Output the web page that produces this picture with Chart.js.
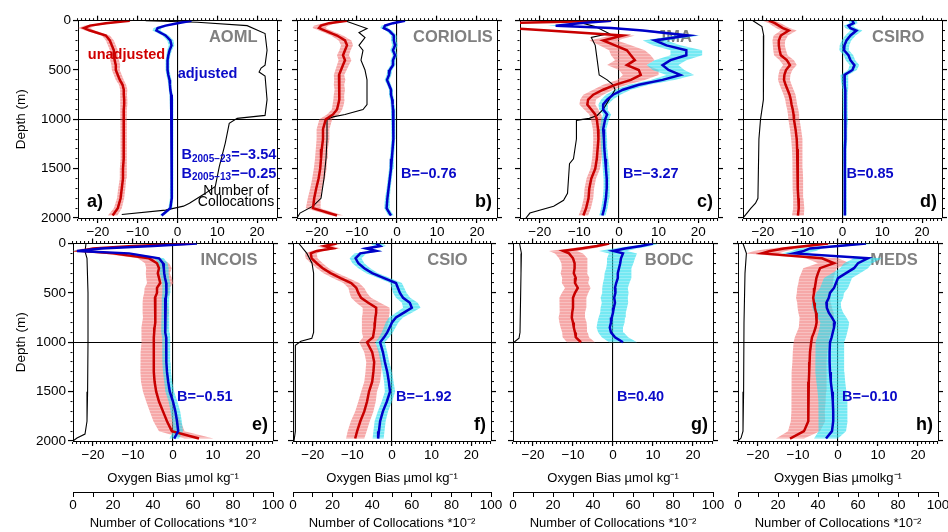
<!DOCTYPE html>
<html>
<head>
<meta charset="utf-8">
<script src="https://cdn.jsdelivr.net/npm/chart.js@4.4.0/dist/chart.umd.min.js"></script>
<style>
  body { margin: 0; background: #fff; width: 948px; height: 532px; overflow: hidden; position: relative; }
  canvas { position: absolute; left: 0; top: 0; }
</style>
</head>
<body>
<script>
// depth levels (m) shared by the bias profiles
const depths = [0,25,50,75,100,150,200,250,300,350,400,450,500,550,600,650,700,750,800,850,900,950,1000,1100,1200,1300,1400,1500,1600,1700,1800,1900,1975];

// a) AOML
const aomlRed = [-12,-18,-22,-23.5,-22,-18,-17,-16.5,-16,-16,-15.8,-15.5,-15.5,-15,-14.5,-13.8,-13.5,-13.5,-13.4,-13.4,-13.5,-13.5,-13.5,-13.5,-13.5,-13.5,-13.6,-13.7,-13.7,-14,-14.3,-15,-16.3];
const aomlRedErr = [1.2,1.5,1.5,1.5,1.2,1,1,1,1,1,1.1,1.1,1,1,1,0.9,0.9,0.8,0.8,0.8,0.8,0.8,0.8,0.8,0.8,0.8,0.8,0.8,0.8,0.9,0.9,1,1.2];
const aomlBlue = [3.5,0,-3,-5,-5.3,-3,-1.8,-1.5,-2,-2.3,-2.5,-2.5,-2.5,-2.3,-2,-1.9,-1.8,-1.6,-1.5,-1.5,-1.5,-1.4,-1.4,-1.4,-1.4,-1.4,-1.4,-1.4,-1.4,-1.5,-1.5,-1.8,-4];
const aomlBlueErr = [0.8,1,1,1,1,0.8,0.8,0.7,0.6,0.5,0.5,0.5,0.5,0.5,0.5,0.4,0.4,0.4,0.4,0.4,0.4,0.4,0.4,0.4,0.4,0.4,0.4,0.4,0.4,0.4,0.4,0.5,0.6];
const aomlCountDepth = [0,15,50,130,300,450,480,520,560,800,960,990,1040,1240,1480,1680,1750,1850,1880,1920,1965];
const aomlCount = [34,60,85,94,95,94,92,91,94,95,94,80,76,74,71,69,64,56,53,44,22];

// b) CORIOLIS
const corRed = [-12.5,-17,-19,-19.5,-18,-15,-13,-12.5,-13,-13.5,-13,-13.5,-14,-14.5,-14.3,-14.5,-14.3,-14.5,-14.5,-14.7,-15,-16,-17.8,-18.5,-18.5,-18.8,-19,-19.2,-19.6,-20.2,-20.7,-21,-15];
const corRedErr = [1.2,1.6,1.8,1.6,1.5,1.5,1.6,1.5,1.4,1.5,1.6,1.5,1.4,1.3,1.4,1.3,1.3,1.3,1.4,1.4,1.3,1.5,1.6,1.6,1.6,1.5,1.5,1.6,1.6,1.5,1.6,1.8,1.6];
const corBlue = [2,-1,-3,-3.3,-2,-0.8,-0.8,-0.5,-1,-0.5,-1,-1,-1.8,-2,-2.5,-2,-1.5,-1.5,-1.2,-1.1,-1,-0.9,-0.8,-0.9,-1,-1.1,-1.3,-1.5,-1.8,-2.1,-2.4,-2.6,-1.5];
const corBlueErr = [0.8,0.9,0.9,0.9,0.8,0.7,0.7,0.7,0.7,0.6,0.6,0.6,0.6,0.6,0.6,0.5,0.5,0.5,0.5,0.5,0.5,0.5,0.5,0.5,0.5,0.5,0.5,0.5,0.5,0.5,0.6,0.6,0.7];
const corCountDepth = [0,80,120,170,250,300,400,500,600,700,850,900,950,975,1000,1200,1400,1600,1800,1880,1950,2000];
const corCount = [24,35,31,34,31,33,32,34,35,35,35,33,24,18,15,15,14.5,13.5,12,8,1.5,0];

// c) JMA
const jmaRed = [-2,-30,-30,-28,-18,1,-4,-1,2,3,4,2,5,5.5,3,-1,-4,-6.5,-7.8,-8,-7,-6,-5.6,-5.3,-5.2,-5.4,-5.6,-6,-7,-7.5,-7.7,-8.3,-9];
const jmaRedErr = [1,2,2,2,2,3,3.5,4,4.5,5,5,5,5,4.5,3.5,3,2.5,2.5,2,2,1.8,1.5,1.5,1.3,1.3,1.2,1.2,1.2,1.2,1.2,1.2,1.2,1.2];
const jmaBlue = [-2,-10,-16,-2,6,17.5,9,12,17,17,13,11,12.5,15.5,11,5,1,-1.5,-3,-4,-4,-3,-3.5,-4,-3.8,-3.7,-3.5,-3.3,-3.1,-3.1,-3.3,-3.7,-4.2];
const jmaBlueErr = [1,2,2,2,2,3,3,3.5,4,4,4,4,4,3.5,3,2.5,2,1.8,1.5,1.2,1,1,1,0.8,0.8,0.8,0.8,0.8,0.8,0.8,0.8,0.8,0.8];
const jmaCountDepth = [0,60,130,170,250,400,550,600,650,700,800,900,960,990,1010,1200,1400,1450,1600,1750,1820,1880,1950,2000];
const jmaCount = [27,38,45,36,38,39,40,44,47,48,45,42,39,35,28.5,28.5,27,25,24.5,24,22,17,5,3];

// d) CSIRO
const csiroRed = [-18.5,-17,-16,-15,-13.5,-15.5,-16,-16,-15.8,-15.5,-14,-13.2,-14.2,-14.6,-14.7,-14.3,-13.8,-13.3,-13,-12.8,-12.5,-12.3,-12.2,-11.8,-11.5,-11.4,-11.3,-11.3,-11.2,-11.2,-11.1,-11,-11.2];
const csiroRedErr = [1.5,1.5,1.6,1.7,2,1.8,1.6,1.5,1.6,1.7,1.8,1.7,1.6,1.5,1.5,1.5,1.5,1.5,1.4,1.4,1.4,1.4,1.4,1.4,1.4,1.3,1.3,1.3,1.3,1.3,1.3,1.4,1.5];
const csiroBlue = [2.5,2.8,1.5,2,3.5,2,1,0.5,0.4,1.5,2,3,2.5,0.5,0.5,0.6,0.7,0.7,0.7,0.7,0.7,0.7,0.8,0.7,0.7,0.6,0.6,0.6,0.6,0.6,0.6,0.6,0.6];
const csiroBlueErr = [1,1,1.2,1.3,1.5,1.3,1.2,1.2,1.2,1.2,1.2,1.2,1.1,1,0.9,0.8,0.7,0.6,0.6,0.6,0.6,0.6,0.6,0.5,0.5,0.5,0.5,0.4,0.4,0.4,0.4,0.4,0.4];
const csiroCountDepth = [0,60,150,500,800,1000,1200,1800,1850,1900,1950,2000];
const csiroCount = [5,9.5,10.4,10.3,10.2,8.8,8,7.5,6.3,4,2,0];

// e) INCOIS
const incRed = [5,-10,-20,-23,-15,-6,-4,-3.5,-3.8,-3.5,-3.2,-4,-4,-4.5,-4.5,-4.4,-4.3,-4.4,-4.5,-4.6,-4.7,-4.8,-4.8,-4.8,-4.8,-4.8,-4.6,-4.2,-3.5,-2.5,-1.5,-0.3,6.5];
const incRedErr = [1,2,2.5,2,2.5,2.8,3,3.2,3,3.2,3.3,3.1,3.2,3,3.1,3.2,3.3,3.1,3.2,3.3,3.1,3,3.2,3.3,3.4,3.3,3.4,3.3,3.2,3.3,3.4,3.2,3.6];
const incBlue = [6,-5,-18,-24,-11,-3.5,-2.5,-2.3,-2.2,-2,-1.7,-1.6,-1.7,-1.8,-1.9,-2,-2,-2,-2,-1.9,-1.8,-1.7,-1.7,-1.7,-1.6,-1.5,-1.2,-0.8,0,0.6,1,1.3,0.3];
const incBlueErr = [1,1.5,1.5,1.5,1.5,1.2,1.2,1.2,1.1,1,1,1,1,1,1,1,1,1,1,1,1,1,1,1,1,1,1,1.1,1.1,1.2,1.2,1.2,1.2];
const incCountDepth = [0,80,150,500,1000,1500,1800,1930,1970,2000];
const incCount = [6.5,6,7,7.5,7.5,7.3,7,6,2,0];

// f) CSIO
const csioRed = [-14,-17,-15,-19,-20.5,-20.3,-19,-17.5,-15.5,-13,-10.3,-9,-8.5,-7.8,-6,-4,-4,-4.2,-4.3,-4.4,-4.6,-4.8,-6.3,-5,-4.5,-4.7,-5,-5.8,-6.3,-7,-8,-8.8,-9.3];
const csioRedErr = [1.5,2,2,1.5,1.5,1.5,1.5,1.5,1.8,2,2,2,2.2,2.5,3,3.4,3.4,3.4,3.3,3.2,3,2.5,2,2,2,2,2,2,2.2,2.3,2.4,2.4,2.3];
const csioBlue = [-4,-3,-6.5,-4,-8,-9.2,-8.5,-7,-5,-2,1,1.5,2,2.8,4.5,5,3,1,0,-0.6,-1.2,-2,-3,-2.3,-1.8,-1.2,-0.8,-0.5,-1.3,-2.3,-3,-3.3,-3.5];
const csioBlueErr = [1.5,1.5,1.5,1.5,1.5,1.5,1.5,1.5,1.5,1.5,1.5,1.6,1.7,1.8,2,2.2,2,1.8,1.6,1.5,1.4,1.3,1.2,1.1,1.1,1.2,1.2,1.3,1.3,1.3,1.4,1.4,1.4];
const csioCountDepth = [0,100,200,300,900,960,990,1030,1900,2000];
const csioCount = [3,7,9.6,10.4,10.4,9.5,4,1.2,1.2,0.5];

// g) BODC (profiles stop at 1000 m)
const bodcRed = [-1,-4,-8,-12.5,-11,-10,-9.6,-9.6,-9.8,-9.3,-9.5,-8.8,-9.5,-10,-10,-10,-10.2,-10.3,-10,-9.8,-9.5,-9.3,-8,null,null,null,null,null,null,null,null,null,null];
const bodcRedErr = [1,2,3,3.5,3.5,3.5,3.3,3.2,3.3,3.4,3.3,3.2,3.3,3.4,3.3,3.3,3.2,3.3,3.4,3.3,3.2,3.3,3.5,null,null,null,null,null,null,null,null,null,null];
const bodcBlue = [10,7,3,0,2.5,2,1.8,1.5,1.2,1.2,0.8,0.5,0.6,0.3,0.5,0.2,0,-0.3,-0.5,-0.8,-0.5,0.5,2.5,null,null,null,null,null,null,null,null,null,null];
const bodcBlueErr = [1.5,2.5,3,3.5,3.5,3.5,3.3,3.2,3.3,3.4,3.3,3.2,3.3,3.4,3.3,3.3,3.2,3.3,3.4,3.3,3.2,3.3,3.5,null,null,null,null,null,null,null,null,null,null];
const bodcCountDepth = [0,100,300,900,960,1000];
const bodcCount = [3.3,4.2,4,3.5,3,0.5];

// h) MEDS
const medsRed = [-2.5,-8,-13.5,-17,-19,-4,-1,-4.5,-5,-5.4,-5.6,-5.8,-6,-6.2,-6,-5.8,-5.5,-5.3,-5.4,-5.6,-6,-6.5,-6.7,-7,-7.1,-7.2,-7.3,-7.3,-7.4,-7.5,-7.5,-8.5,-12];
const medsRedErr = [2,3,3.5,4,4,4,4,4.2,4.2,4.3,4.3,4.4,4.3,4.3,4.2,4.3,4.4,4.3,4.3,4.2,4.3,4.3,4.4,4.3,4.3,4.4,4.3,4.3,4.3,4.2,4.3,4,3.5];
const medsBlue = [7,0,-7,-8.5,-11,7.5,5,4,2,0,-0.5,-1,-2,-2.3,-2.9,-2.8,-2.3,-1.5,-0.8,-1,-1.3,-1.6,-2,-2.1,-2.1,-2,-1.8,-1.5,-1.3,-1.2,-1.2,-1.5,-3];
const medsBlueErr = [2.5,3,3,3,3,3.5,3.5,3.5,3.5,3.5,3.5,3.5,3.5,3.6,3.6,3.6,3.6,3.6,3.6,3.6,3.6,3.6,3.6,3.6,3.6,3.6,3.6,3.6,3.6,3.6,3.6,3.5,3];
const medsCountDepth = [0,100,300,800,1500,1900,1970,2000];
const medsCount = [2.5,4.2,3.5,3,2.8,2.5,1.5,0];

const centres = ['AOML','CORIOLIS','JMA','CSIRO','INCOIS','CSIO','BODC','MEDS'];
const panelTags = ['a)','b)','c)','d)','e)','f)','g)','h)'];
const biasLabels = ['', 'B=−0.76', 'B=−3.27', 'B=0.85', 'B=−0.51', 'B=−1.92', 'B=0.40', 'B=−0.10'];
const aomlBias = [['B','2005−23','=−3.54'], ['B','2005−13','=−0.25']];
const xTitles = ['Oxygen Bias µmol kg⁻¹','Oxygen Bias µmol kg⁻¹','Oxygen Bias µmol kg⁻¹','Oxygen Bias µmolkg⁻¹'];

const profiles = [
  [aomlRed, aomlRedErr, aomlBlue, aomlBlueErr, aomlCountDepth, aomlCount],
  [corRed, corRedErr, corBlue, corBlueErr, corCountDepth, corCount],
  [jmaRed, jmaRedErr, jmaBlue, jmaBlueErr, jmaCountDepth, jmaCount],
  [csiroRed, csiroRedErr, csiroBlue, csiroBlueErr, csiroCountDepth, csiroCount],
  [incRed, incRedErr, incBlue, incBlueErr, incCountDepth, incCount],
  [csioRed, csioRedErr, csioBlue, csioBlueErr, csioCountDepth, csioCount],
  [bodcRed, bodcRedErr, bodcBlue, bodcBlueErr, bodcCountDepth, bodcCount],
  [medsRed, medsRedErr, medsBlue, medsBlueErr, medsCountDepth, medsCount]
];

// plot area of each panel: left, top, right, bottom (px)
const boxes = [
  [78,20.7,277,218],[297,20.7,497,218],[520,20.7,718,218],[743,20.7,942,218],
  [73,243.5,273,441],[293,243.5,491,441],[513,243.5,713,441],[738,243.5,938,441]
];

const FONT = "'Liberation Sans', Arial, Helvetica, sans-serif";
Chart.defaults.font.family = FONT;
Chart.defaults.font.size = 13.5;
Chart.defaults.color = '#000';

function profileLine(vals) {
  const pts = [];
  for (let i = 0; i < depths.length; i++) {
    if (vals[i] == null) continue;
    pts.push({x: vals[i], y: depths[i]});
  }
  return pts;
}

// closed outline: mean-err going down, mean+err coming back up
function bandShape(vals, err) {
  const lo = [], hi = [];
  for (let i = 0; i < depths.length; i++) {
    if (vals[i] == null) continue;
    lo.push({x: vals[i] - err[i], y: depths[i]});
    hi.push({x: vals[i] + err[i], y: depths[i]});
  }
  return lo.concat(hi.reverse());
}

function stripes(ctx, rgb, a1, a2) {
  const c = document.createElement('canvas');
  c.width = 4; c.height = 3;
  const g = c.getContext('2d');
  g.fillStyle = 'rgba(' + rgb + ',' + a1 + ')';
  g.fillRect(0, 0, 4, 2);
  g.fillStyle = 'rgba(' + rgb + ',' + a2 + ')';
  g.fillRect(0, 2, 4, 1);
  return ctx.createPattern(c, 'repeat');
}

const minus = v => v < 0 ? '−' + (-v) : String(v);

function tickGrid(majorTest, zeroValue, outerFirst) {
  return {
    color: c => (zeroValue != null && c.tick && c.tick.value === zeroValue) ? '#000' : 'rgba(0,0,0,0)',
    lineWidth: 1.1,
    drawOnChartArea: zeroValue != null,
    tickColor: '#000',
    tickLength: 5,
    tickWidth: c => majorTest(c.tick.value) ? 1.2 : 1,
    tickBorderDash: c => majorTest(c.tick.value) ? [] : [2, 20],
    tickBorderDashOffset: outerFirst ? 19.5 : 0
  };
}

function makePanel(i) {
  const [L, T, R, B] = boxes[i];
  const top = i < 4;
  const first = i % 4 === 0;
  const yW = first ? L - 13 : 5;
  const xH = top ? 24 : 51;
  const xcH = top ? 0 : 40;
  const [red, redErr, blue, blueErr, cDep, cnt] = profiles[i];

  const cv = document.createElement('canvas');
  cv.width = 948; cv.height = 532;
  document.body.appendChild(cv);
  const ctx = cv.getContext('2d');

  const isMajX = v => v % 10 === 0;
  const isMajY = v => v % 500 === 0;

  const textPlugin = {
    id: 'panelText' + i,
    beforeDatasetsDraw(chart) {
      const g = chart.ctx, ca = chart.chartArea;
      const xs = chart.scales.x;
      g.save();
      g.font = 'bold 16.5px ' + FONT;
      g.fillStyle = '#808080';
      g.textAlign = 'center';
      g.textBaseline = 'middle';
      g.fillText(centres[i], xs.getPixelForValue(14), ca.top + 16.5);
      g.restore();
    },
    afterDatasetsDraw(chart) {
      const g = chart.ctx, ca = chart.chartArea;
      const xs = chart.scales.x, ys = chart.scales.y;
      g.save();
      g.textBaseline = 'middle';
      // panel letter
      g.font = 'bold 18px ' + FONT;
      g.fillStyle = '#000';
      if (i === 0) { g.textAlign = 'left'; g.fillText(panelTags[i], ca.left + 9, ca.bottom - 16); }
      else { g.textAlign = 'right'; g.fillText(panelTags[i], ca.right - 5, ca.bottom - 16); }
      // bias value
      g.fillStyle = '#0a0ac8';
      g.textAlign = 'left';
      const x0 = xs.getPixelForValue(0) + 4;
      if (i === 0) {
        aomlBias.forEach((parts, k) => {
          const y = ys.getPixelForValue(k === 0 ? 1360 : 1550);
          let x = x0;
          g.font = 'bold 14.5px ' + FONT;
          g.fillText(parts[0], x, y); x += g.measureText(parts[0]).width;
          g.font = 'bold 10px ' + FONT;
          g.fillText(parts[1], x, y + 4); x += g.measureText(parts[1]).width;
          g.font = 'bold 14.5px ' + FONT;
          g.fillText(parts[2], x, y);
        });
        g.fillStyle = '#000';
        g.font = '14px ' + FONT;
        g.textAlign = 'center';
        g.fillText('Number of', 236, 191);
        g.fillText('Collocations', 236, 202.5);
        g.font = 'bold 14.5px ' + FONT;
        g.fillStyle = '#d00000';
        g.fillText('unadjusted', 126.5, 55);
        g.fillStyle = '#0a0ac8';
        g.fillText('adjusted', 207.5, 74);
      } else {
        g.font = 'bold 14.5px ' + FONT;
        g.fillText(biasLabels[i], x0, ys.getPixelForValue(1558));
      }
      g.restore();
    }
  };

  new Chart(cv, {
    type: 'scatter',
    data: {
      datasets: [
        {data: bandShape(red, redErr), showLine: true, fill: 'shape', pointRadius: 0, borderWidth: 0,
         borderColor: 'rgba(0,0,0,0)', backgroundColor: stripes(ctx, '240,115,115', 0.62, 0.45), order: 6},
        {data: bandShape(blue, blueErr), showLine: true, fill: 'shape', pointRadius: 0, borderWidth: 0,
         borderColor: 'rgba(0,0,0,0)', backgroundColor: stripes(ctx, '50,222,238', 0.68, 0.5), order: 5},
        {data: cDep.map((d, k) => ({x: cnt[k], y: d})), xAxisID: 'xc', showLine: true, pointRadius: 0,
         borderColor: '#000', borderWidth: 1.1, order: 4},
        {data: profileLine(red), showLine: true, pointRadius: 0, borderColor: '#c80000', borderWidth: 2.5, order: 2},
        {data: profileLine(blue), showLine: true, pointRadius: 0, borderColor: '#0000c8', borderWidth: 2.5, order: 1}
      ]
    },
    options: {
      responsive: false,
      animation: false,
      events: [],
      layout: {padding: {left: L - yW, top: T - 5, right: 948 - R - 5, bottom: 532 - B - xH - xcH}},
      plugins: {legend: {display: false}, tooltip: {enabled: false}},
      scales: {
        x: {
          type: 'linear', position: 'bottom', min: -25, max: 25, weight: 0,
          ticks: {stepSize: 1, autoSkip: false, maxRotation: 0, padding: 1,
                  callback: v => isMajX(v) && Math.abs(v) < 25 ? minus(v) : ''},
          grid: tickGrid(isMajX, 0, false),
          border: {display: true, color: '#000', width: 1},
          title: {display: !top, text: xTitles[i % 4], font: {size: 13}, padding: {top: 0, bottom: 6}},
          afterFit: s => { s.height = xH; s.paddingLeft = 0; s.paddingRight = 0; }
        },
        xTop: {
          type: 'linear', position: 'top', min: -25, max: 25,
          ticks: {display: false, stepSize: 1, autoSkip: false},
          grid: tickGrid(isMajX, null, true),
          border: {display: true, color: '#000', width: 1},
          afterFit: s => { s.height = 5; s.paddingLeft = 0; s.paddingRight = 0; }
        },
        xc: {
          type: 'linear', position: 'bottom', min: 0, max: 100, weight: 1, display: !top,
          ticks: {stepSize: 10, autoSkip: false, maxRotation: 0, padding: 0,
                  callback: v => v % 20 === 0 ? String(v) : ''},
          grid: {drawOnChartArea: false, tickColor: '#000', tickLength: 5, color: '#000'},
          border: {display: true, color: '#000', width: 1},
          title: {display: true, text: 'Number of Collocations *10⁻²', font: {size: 13}, padding: {top: 0, bottom: 1}},
          afterFit: s => { s.height = xcH; s.paddingLeft = 0; s.paddingRight = 0; }
        },
        y: {
          type: 'linear', position: 'left', min: 0, max: 2000, reverse: true,
          ticks: {display: first, stepSize: 100, autoSkip: false, padding: 2,
                  callback: v => isMajY(v) ? String(v) : ''},
          grid: tickGrid(isMajY, 1000, true),
          border: {display: true, color: '#000', width: 1},
          title: {display: first, text: 'Depth (m)', font: {size: 13.5}, padding: {top: 0, bottom: 0}},
          afterFit: s => { s.width = yW; s.paddingTop = 0; s.paddingBottom = 0; }
        },
        yRight: {
          type: 'linear', position: 'right', min: 0, max: 2000, reverse: true,
          ticks: {display: false, stepSize: 100, autoSkip: false},
          grid: tickGrid(isMajY, null, false),
          border: {display: true, color: '#000', width: 1},
          afterFit: s => { s.width = 5; s.paddingTop = 0; s.paddingBottom = 0; }
        }
      }
    },
    plugins: [textPlugin]
  });
}

for (let i = 0; i < 8; i++) makePanel(i);
</script>
</body>
</html>
